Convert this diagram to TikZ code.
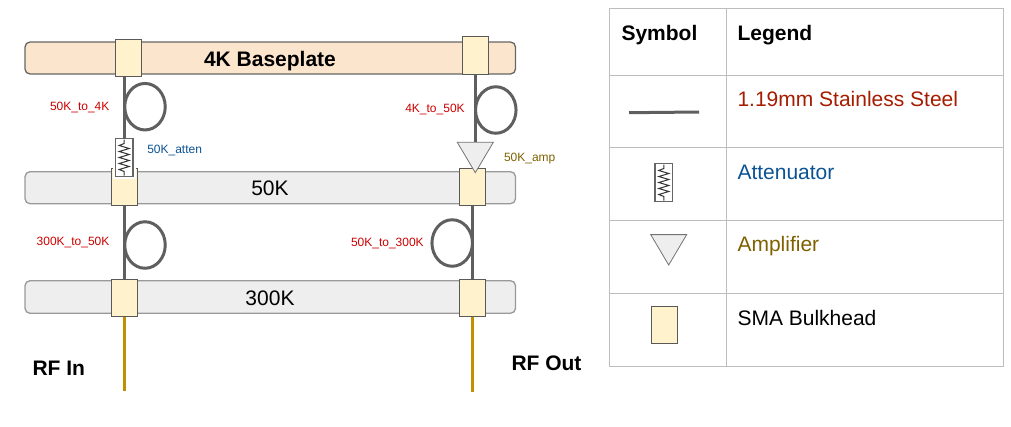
\documentclass[tikz,border=0pt]{standalone}
\usepackage{fontspec}
\setmainfont{Liberation Sans}
\usetikzlibrary{shapes.geometric}
\definecolor{coax}{HTML}{5F5F5F}
\definecolor{gold}{HTML}{BF9000}
\definecolor{smafill}{HTML}{FFF2CC}
\definecolor{barfill}{HTML}{EEEEEE}
\definecolor{warmfill}{HTML}{FCE5CD}
\definecolor{redlab}{HTML}{CC0000}
\definecolor{bluelab}{HTML}{0B5394}
\definecolor{amplab}{HTML}{7F6000}
\definecolor{steel}{HTML}{A61C00}
\definecolor{gridc}{HTML}{BDBDBD}
\tikzset{
 x=1pt,y=-1pt,
 every node/.style={inner sep=0pt,outer sep=0pt},
 bar/.style={draw=black!40,line width=1.3pt,fill=barfill,rounded corners=5pt,minimum width=490.5pt,anchor=west},
 sma/.style={draw=black!65,line width=1pt,fill=smafill,minimum width=26pt,minimum height=37.4pt},
 cable/.style={draw=coax,line width=3.4pt},
 rfline/.style={draw=gold,line width=3pt},
 coil/.style={draw=coax,line width=3pt,ellipse,minimum width=40.5pt,minimum height=46.5pt},
 amp/.style={draw=black!55,line width=.8pt,fill=barfill,isosceles triangle,isosceles triangle stretches,shape border rotate=-90,minimum width=36pt,minimum height=30.4pt},
 atten/.style={draw=black!60,line width=1.2pt,fill=white,minimum width=17.6pt,minimum height=37.5pt},
 small/.style={font=\fontsize{12}{14}\selectfont,anchor=base west},
 big/.style={font=\fontsize{21}{25}\selectfont,anchor=base},
 head/.style={font=\fontsize{21}{25}\selectfont\bfseries,anchor=base west},
 cell/.style={font=\fontsize{21}{25}\selectfont,anchor=base west},
 grid/.style={draw=gridc,line width=1pt},
 pics/resistor/.style={code={
  \draw[black!80,line width=1pt,line join=miter]
   (0,-18)--(0,-14)--(-5,-12)--(5,-9)--(-5,-6)--(5,-3)--(-5,0)--(5,3)--(-5,6)--(5,9)--(-5,12)--(0,14)--(0,18);
 }}
}
\begin{document}
\begin{tikzpicture}
\useasboundingbox (0,0) rectangle (1011,426);
% plates
\node[bar,minimum height=32pt,fill=warmfill,draw=black!60] (plateA) at (25,58) {};
\node[bar,minimum height=32pt] (plateB) at (25,187.7) {};
\node[bar,minimum height=32.6pt] (plateC) at (25,297) {};
\node[big,font=\fontsize{21}{25}\selectfont\bfseries] (plateAt) at (270,66) {4K Baseplate};
\node[big] (plateBt) at (270,195) {50K};
\node[big] (plateCt) at (270,305) {300K};
% SMA
\node[sma] (smaAL) at (128.5,58) {};
\node[sma] (smaAR) at (475.3,55.3) {};
\node[sma] (smaBL) at (124.5,186.8) {};
\node[sma] (smaBR) at (472.5,186.8) {};
\node[sma] (smaCL) at (124.5,298) {};
\node[sma] (smaCR) at (472.5,298) {};
% coils
\node[coil] (coilAL) at (145,106.7) {};
\node[coil] (coilAR) at (495.8,110) {};
\node[coil] (coilBL) at (145,245) {};
\node[coil] (coilBR) at (452.2,243) {};
% inline parts
\fill[white] (113,167) rectangle (136,178.5);
\node[atten] (att) at (124.2,157.5) {};
\pic at (124.2,157.5) {resistor};
\node[amp,anchor=apex] (ampl) at (475.3,172.7) {};
% connectors
\coordinate (rfinEnd) at (124.5,391);
\coordinate (rfoutEnd) at (472.5,392);
\draw[cable] (att.north |- smaAL.south) -- (att.north);
\draw[cable] (ampl.north |- smaAR.south) -- (ampl.north);
\draw[cable] (smaBL.south) -- (smaCL.north);
\draw[cable] (smaBR.south) -- (smaCR.north);
\draw[rfline] (smaCL.south) -- (rfinEnd);
\draw[rfline] (smaCR.south) -- (rfoutEnd);
% labels
\node[small,text=redlab] (l1) at (50,110.7) {50K\_to\_4K};
\node[small,text=bluelab] (l2) at (147.3,153.3) {50K\_atten};
\node[small,text=redlab] (l3) at (405.3,112.7) {4K\_to\_50K};
\node[small,text=amplab] (l4) at (504,161.7) {50K\_amp};
\node[small,text=redlab] (l5) at (36.7,245.7) {300K\_to\_50K};
\node[small,text=redlab] (l6) at (351,246.7) {50K\_to\_300K};
\node[head] (rfin) at (32.5,375) {RF In};
\node[head] (rfout) at (511.5,370) {RF Out};
% table
\draw[grid] (609.5,8.7) rectangle (1003.5,366.3);
\draw[grid] (726,8.7) -- (726,366.3);
\draw[grid] (609.5,75) -- (1003.5,75);
\draw[grid] (609.5,147.7) -- (1003.5,147.7);
\draw[grid] (609.5,220.7) -- (1003.5,220.7);
\draw[grid] (609.5,293.3) -- (1003.5,293.3);
\node[head] (hs) at (621.5,40) {Symbol};
\node[head] (hl) at (737.5,40) {Legend};
\node[cell,text=steel] (t1) at (737.5,106) {1.19mm Stainless Steel};
\node[cell,text=bluelab] (t2) at (737.5,179.3) {Attenuator};
\node[cell,text=amplab] (t3) at (737.5,251.7) {Amplifier};
\node[cell] (t4) at (737.5,325) {SMA Bulkhead};
\coordinate (ls) at (629,112.7);
\coordinate (le) at (699,112);
\draw[cable,line width=3pt] (ls) -- (le);
\node[atten] (latt) at (663.8,182.5) {};
\pic at (663.8,182.5) {resistor};
\node[amp,anchor=apex] (lamp) at (668.7,265) {};
\node[sma] (lsma) at (664.5,325) {};
\end{tikzpicture}
\end{document}
